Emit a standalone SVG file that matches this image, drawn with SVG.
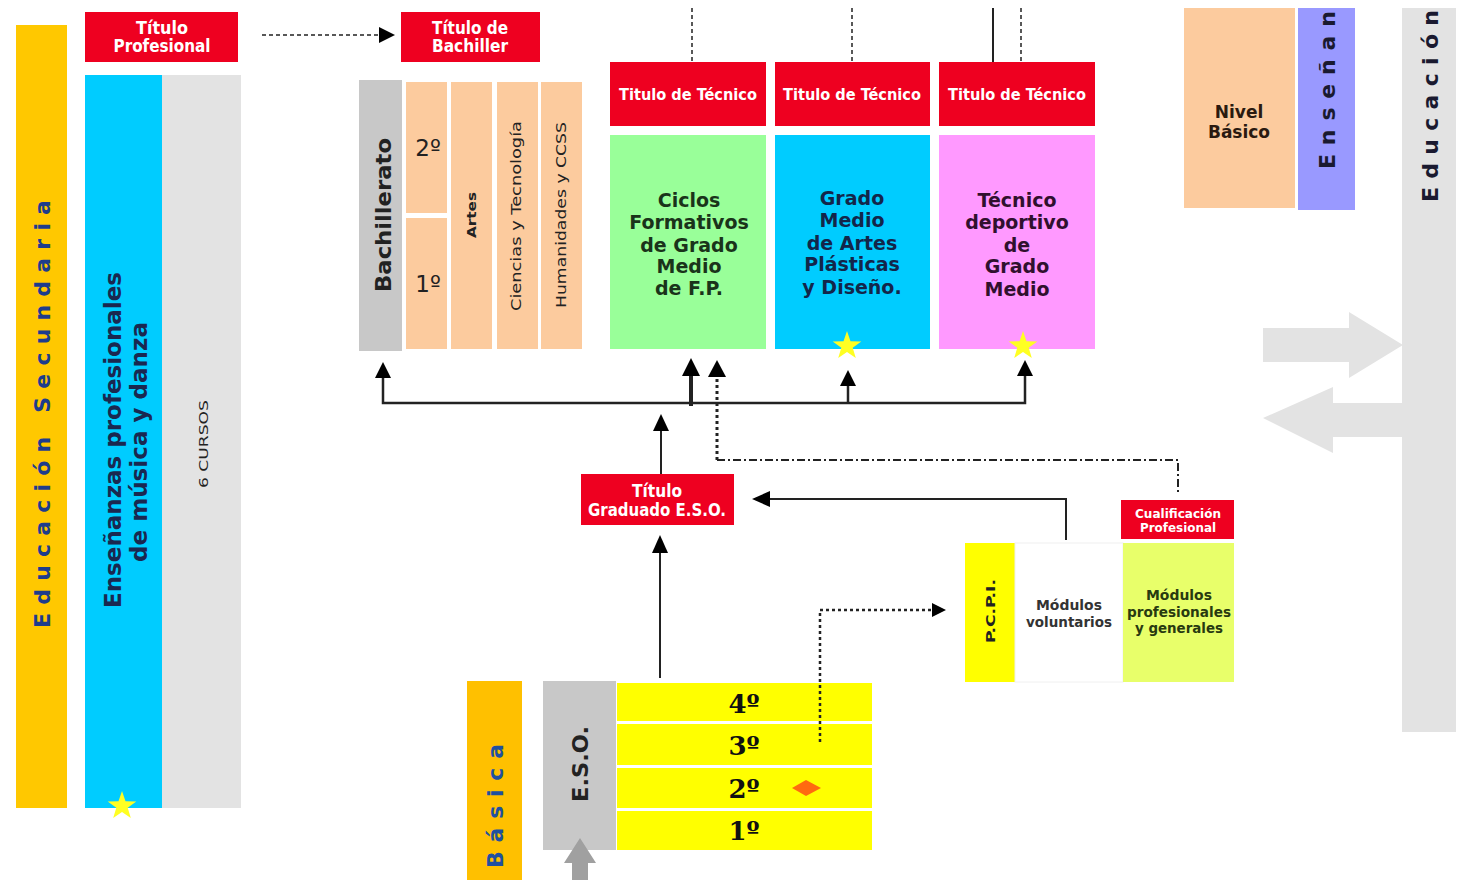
<svg xmlns="http://www.w3.org/2000/svg" width="1459" height="880" viewBox="0 0 1459 880">
<defs>
<style>
.red{fill:#EE0020}
.tw{fill:#fff;font-family:"DejaVu Sans Condensed","DejaVu Sans",sans-serif;font-weight:bold;text-anchor:middle}
.b{font-family:"DejaVu Sans",Verdana,sans-serif;font-weight:bold;text-anchor:middle}
.ln{fill:none;stroke:#222}
</style>
<polygon id="star" points="0,-15 3.5,-4.8 14.3,-4.6 5.7,1.8 8.8,12.1 0,6 -8.8,12.1 -5.7,1.8 -14.3,-4.6 -3.5,-4.8" fill="#FFFF22"/>
</defs>
<rect width="1459" height="880" fill="#fff"/>

<g id="educacion-secundaria">
<rect x="16" y="25" width="51" height="783" fill="#FFC800"/>
<text transform="translate(50,414) rotate(-90)" class="b" font-size="22" fill="#1E3C8C" textLength="428" lengthAdjust="spacing">Educación Secundaria</text>
</g>

<g id="musica-danza">
<rect x="85" y="75" width="77" height="733" fill="#00CCFF"/>
<text transform="translate(121,440) rotate(-90)" class="b" font-size="23" fill="#1A2850" textLength="336" lengthAdjust="spacingAndGlyphs">Enseñanzas profesionales</text>
<text transform="translate(147,442) rotate(-90)" class="b" font-size="23" fill="#1A2850" textLength="240" lengthAdjust="spacingAndGlyphs">de música y danza</text>
<use href="#star" x="122" y="806"/>
</g>

<g id="seis-cursos">
<rect x="162" y="75" width="79" height="733" fill="#E3E3E3"/>
<text transform="translate(208,444) rotate(-90)" font-family="DejaVu Sans Condensed,DejaVu Sans,sans-serif" font-size="13" text-anchor="middle" fill="#222" textLength="88" lengthAdjust="spacingAndGlyphs">6 CURSOS</text>
</g>

<g id="titulo-profesional">
<rect x="85" y="12" width="153" height="50" class="red"/>
<text x="162" y="34" class="tw" font-size="17" textLength="52" lengthAdjust="spacingAndGlyphs">Título</text>
<text x="162" y="52" class="tw" font-size="17" textLength="97" lengthAdjust="spacingAndGlyphs">Profesional</text>
</g>

<g id="titulo-bachiller">
<rect x="401" y="12" width="139" height="50" class="red"/>
<text x="470" y="34" class="tw" font-size="17" textLength="76" lengthAdjust="spacingAndGlyphs">Título de</text>
<text x="470" y="52" class="tw" font-size="17" textLength="76" lengthAdjust="spacingAndGlyphs">Bachiller</text>
</g>

<g id="bachillerato">
<rect x="359" y="80" width="43" height="271" fill="#C8C8C8"/>
<text transform="translate(391,215) rotate(-90)" class="b" font-size="22" fill="#222" textLength="154" lengthAdjust="spacingAndGlyphs">Bachillerato</text>
<rect x="406" y="82" width="41" height="131" fill="#FCCB9E"/>
<rect x="406" y="218" width="41" height="131" fill="#FCCB9E"/>
<text x="428" y="156" font-family="DejaVu Sans,sans-serif" font-size="23" text-anchor="middle" fill="#222">2º</text>
<text x="428" y="292" font-family="DejaVu Sans,sans-serif" font-size="23" text-anchor="middle" fill="#222">1º</text>
<rect x="451" y="82" width="41" height="267" fill="#FCCB9E"/>
<text transform="translate(476,215) rotate(-90)" class="b" font-size="13" fill="#222" textLength="46" lengthAdjust="spacingAndGlyphs">Artes</text>
<rect x="497" y="82" width="41" height="267" fill="#FCCB9E"/>
<text transform="translate(521,216) rotate(-90)" font-family="DejaVu Sans,sans-serif" font-size="14" text-anchor="middle" fill="#222" textLength="190" lengthAdjust="spacingAndGlyphs">Ciencias y Tecnología</text>
<rect x="541" y="82" width="41" height="267" fill="#FCCB9E"/>
<text transform="translate(566,215) rotate(-90)" font-family="DejaVu Sans,sans-serif" font-size="14" text-anchor="middle" fill="#222" textLength="186" lengthAdjust="spacingAndGlyphs">Humanidades y CCSS</text>
</g>

<g id="fp-medio">
<rect x="610" y="62" width="156" height="64" class="red"/>
<text x="688" y="100" class="tw" font-size="15" textLength="138" lengthAdjust="spacingAndGlyphs">Titulo de Técnico</text>
<rect x="610" y="135" width="156" height="214" fill="#99FF99"/>
<g class="b" font-size="19" fill="#1A331A">
<text x="689" y="207">Ciclos</text>
<text x="689" y="229">Formativos</text>
<text x="689" y="252">de Grado</text>
<text x="689" y="273">Medio</text>
<text x="689" y="295">de F.P.</text>
</g>
</g>

<g id="artes-plasticas">
<rect x="775" y="62" width="155" height="64" class="red"/>
<text x="852" y="100" class="tw" font-size="15" textLength="138" lengthAdjust="spacingAndGlyphs">Titulo de Técnico</text>
<rect x="775" y="135" width="155" height="214" fill="#00CCFF"/>
<g class="b" font-size="19" fill="#13264A">
<text x="852" y="205">Grado</text>
<text x="852" y="227">Medio</text>
<text x="852" y="250">de Artes</text>
<text x="852" y="271">Plásticas</text>
<text x="852" y="294">y Diseño.</text>
</g>
<use href="#star" x="847" y="346"/>
</g>

<g id="tecnico-deportivo">
<rect x="939" y="62" width="156" height="64" class="red"/>
<text x="1017" y="100" class="tw" font-size="15" textLength="138" lengthAdjust="spacingAndGlyphs">Titulo de Técnico</text>
<rect x="939" y="135" width="156" height="214" fill="#FF99FF"/>
<g class="b" font-size="19" fill="#30102E">
<text x="1017" y="207">Técnico</text>
<text x="1017" y="229">deportivo</text>
<text x="1017" y="252">de</text>
<text x="1017" y="273">Grado</text>
<text x="1017" y="296">Medio</text>
</g>
<use href="#star" x="1023" y="346"/>
</g>

<g id="titulo-graduado">
<rect x="581" y="474" width="153" height="51" class="red"/>
<text x="657" y="497" class="tw" font-size="17" textLength="50" lengthAdjust="spacingAndGlyphs">Título</text>
<text x="657" y="516" class="tw" font-size="17" textLength="138" lengthAdjust="spacingAndGlyphs">Graduado E.S.O.</text>
</g>

<g id="pcpi">
<rect x="1121" y="500" width="113" height="39" class="red"/>
<text x="1178" y="518" class="tw" font-size="12" textLength="86" lengthAdjust="spacingAndGlyphs">Cualificación</text>
<text x="1178" y="532" class="tw" font-size="12" textLength="76" lengthAdjust="spacingAndGlyphs">Profesional</text>
<rect x="965" y="543" width="50" height="139" fill="#FFFF00"/>
<text transform="translate(995,611) rotate(-90)" class="b" font-size="13" fill="#222" textLength="64" lengthAdjust="spacingAndGlyphs">P.C.P.I.</text>
<rect x="1015" y="543" width="108" height="139" fill="#fff" stroke="#f0f0f0"/>
<text x="1069" y="610" class="b" font-size="14" fill="#333" textLength="66" lengthAdjust="spacingAndGlyphs">Módulos</text>
<text x="1069" y="627" class="b" font-size="14" fill="#333" textLength="86" lengthAdjust="spacingAndGlyphs">voluntarios</text>
<rect x="1123" y="543" width="111" height="139" fill="#E8FF6A"/>
<g class="b" font-size="14" fill="#283A10">
<text x="1179" y="600" textLength="66" lengthAdjust="spacingAndGlyphs">Módulos</text>
<text x="1179" y="617" textLength="104" lengthAdjust="spacingAndGlyphs">profesionales</text>
<text x="1179" y="633" textLength="88" lengthAdjust="spacingAndGlyphs">y generales</text>
</g>
</g>

<g id="basica">
<rect x="467" y="681" width="55" height="199" fill="#FFC000"/>
<text transform="translate(503,806) rotate(-90)" class="b" font-size="22" fill="#2050A0" textLength="124" lengthAdjust="spacing">Básica</text>
</g>

<g id="eso">
<rect x="543" y="681" width="73" height="169" fill="#C8C8C8"/>
<text transform="translate(588,764) rotate(-90)" class="b" font-size="22" fill="#222" textLength="76" lengthAdjust="spacingAndGlyphs">E.S.O.</text>
<rect x="617" y="683" width="255" height="38" fill="#FFFF00"/>
<rect x="617" y="724" width="255" height="41" fill="#FFFF00"/>
<rect x="617" y="768" width="255" height="40" fill="#FFFF00"/>
<rect x="617" y="811" width="255" height="39" fill="#FFFF00"/>
<g font-family="DejaVu Serif,serif" font-weight="bold" font-size="26" fill="#111" text-anchor="middle">
<text x="744" y="713">4º</text>
<text x="744" y="755">3º</text>
<text x="744" y="798">2º</text>
<text x="744" y="840">1º</text>
</g>
<polygon points="792,788 806,780 821,788 806,796" fill="#FF6A10"/>
<polygon points="564,863 580,838 596,863 588,863 588,880 572,880 572,863" fill="#A0A0A0"/>
</g>

<g id="nivel-basico">
<rect x="1184" y="8" width="111" height="200" fill="#FCCB9E"/>
<text x="1239" y="118" class="b" font-size="17" fill="#2A1A10">Nivel</text>
<text x="1239" y="138" class="b" font-size="17" fill="#2A1A10">Básico</text>
</g>

<g id="ensenanzas">
<rect x="1298" y="8" width="57" height="202" fill="#9999FF"/>
<text transform="translate(1335,90) rotate(-90)" class="b" font-size="22" fill="#1A1A30" textLength="158" lengthAdjust="spacing">Enseñan</text>
</g>

<g id="educacion">
<rect x="1402" y="8" width="54" height="724" fill="#E3E3E3"/>
<text transform="translate(1438,106) rotate(-90)" class="b" font-size="22" fill="#1A1A30" textLength="192" lengthAdjust="spacing">Educación</text>
<polygon points="1263,328 1349,328 1349,312 1403,345 1349,378 1349,362 1263,362" fill="#E3E3E3"/>
<polygon points="1263,418 1333,387 1333,403 1403,403 1403,437 1333,437 1333,453" fill="#E3E3E3"/>
</g>

<g id="connectors">
<line x1="262" y1="35" x2="380" y2="35" class="ln" stroke-width="1.5" stroke-dasharray="4 3"/>
<path d="M395,35 l-16,-8 v16 z" fill="#000"/>
<line x1="692" y1="8" x2="692" y2="62" class="ln" stroke-width="1.5" stroke-dasharray="4 3"/>
<line x1="852" y1="8" x2="852" y2="62" class="ln" stroke-width="1.5" stroke-dasharray="4 3"/>
<line x1="1021" y1="8" x2="1021" y2="62" class="ln" stroke-width="1.5" stroke-dasharray="4 3"/>
<line x1="993" y1="8" x2="993" y2="62" class="ln" stroke-width="2"/>
<polyline points="383,372 383,403 1025,403 1025,372" class="ln" stroke="#555" stroke-width="2.5"/>
<path d="M383,362 l-8,16 h16 z M1025,360 l-8,16 h16 z" fill="#000"/>
<line x1="848" y1="403" x2="848" y2="384" class="ln" stroke-width="2.5"/>
<path d="M848,370 l-8,16 h16 z" fill="#000"/>
<line x1="691" y1="406" x2="691" y2="374" class="ln" stroke="#000" stroke-width="4"/>
<path d="M691,358 l-9,18 h18 z" fill="#000"/>
<line x1="717" y1="460" x2="717" y2="376" class="ln" stroke="#000" stroke-width="3" stroke-dasharray="3 3"/>
<path d="M717,360 l-9,17 h18 z" fill="#000"/>
<polyline points="717,460 1178,460 1178,494" class="ln" stroke-width="2" stroke-dasharray="8 3 2 3"/>
<line x1="661" y1="474" x2="661" y2="430" class="ln" stroke-width="2"/>
<path d="M661,414 l-8,17 h16 z" fill="#000"/>
<polyline points="1066,540 1066,499 770,499" class="ln" stroke-width="2"/>
<path d="M752,499 l18,-8 v16 z" fill="#000"/>
<line x1="660" y1="678" x2="660" y2="552" class="ln" stroke-width="2"/>
<path d="M660,535 l-8,18 h16 z" fill="#000"/>
<polyline points="820,742 820,610 932,610" class="ln" stroke-width="2.5" stroke-dasharray="3 3"/>
<path d="M946,610 l-14,-7 v14 z" fill="#000"/>
</g>
</svg>
